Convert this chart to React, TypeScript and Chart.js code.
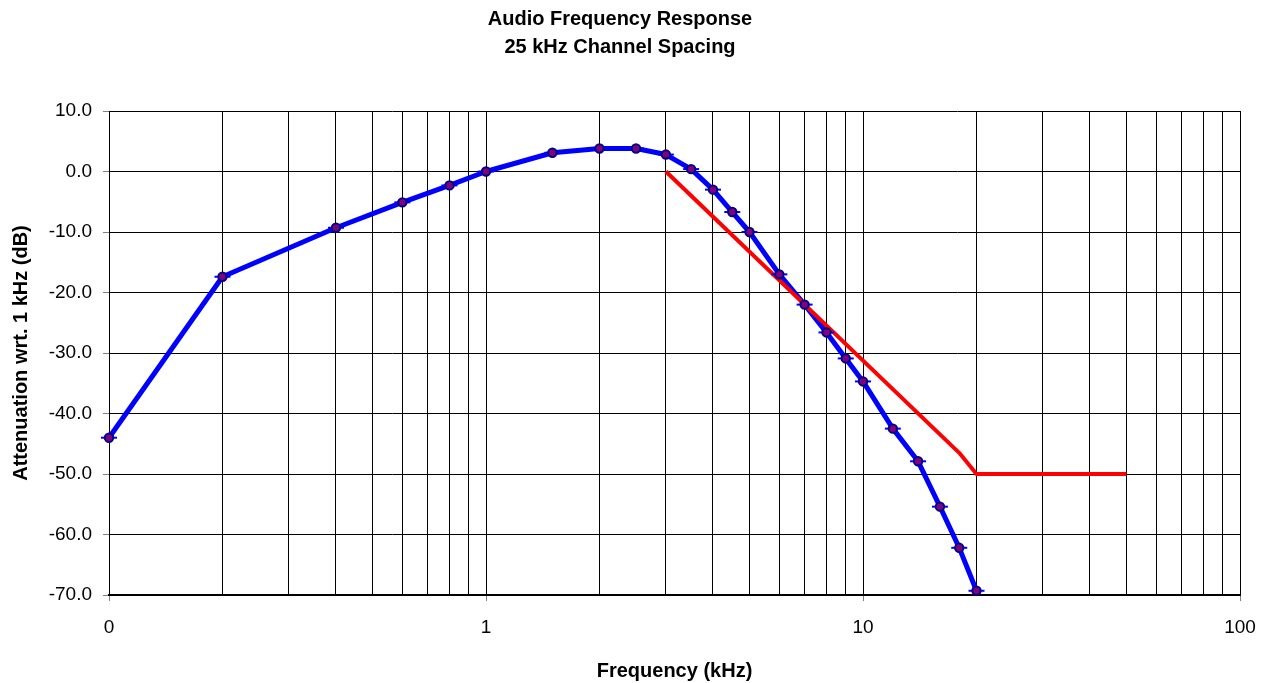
import React, { useEffect, useRef } from "react";
import { Chart, registerables } from "chart.js";

Chart.register(...registerables);

// ---------- text ----------
const TITLE_LINES = ["Audio Frequency Response", "25 kHz Channel Spacing"];
const X_TITLE = "Frequency (kHz)";
const Y_TITLE = "Attenuation wrt. 1 kHz (dB)";

// ---------- data ----------
const MEASURED_FREQ = [0.1, 0.2, 0.4, 0.6, 0.8, 1, 1.5, 2, 2.5, 3, 3.5, 4, 4.5, 5, 6, 7, 8, 9, 10, 12, 14, 16, 18, 20];
const MEASURED_DB = [-44.0, -17.4, -9.3, -5.1, -2.3, 0.0, 3.1, 3.8, 3.8, 2.8, 0.4, -3.0, -6.7, -10.0, -17.0, -22.0, -26.6, -30.9, -34.7, -42.5, -47.9, -55.4, -62.2, -69.3];

const LIMIT_FREQ = [3, 18, 20, 50];
const LIMIT_DB = [0, -46.5, -50, -50];

// ---------- axes ----------
const X_MIN = 0.1;
const X_MAX = 100;
const Y_MIN = -70;
const Y_MAX = 10;
const Y_STEP = 10;
const X_GRID_DECADES = [0.1, 1, 10];
const X_GRID_MULTIPLIERS = [1, 2, 3, 4, 5, 6, 7, 8, 9];
const X_TICK_LABELS: Record<string, string> = { "0.1": "0", "1": "1", "10": "10", "100": "100" };

const FONT = "'Liberation Sans', Arial, Helvetica, sans-serif";

const X_GRID_VALUES: number[] = [];
X_GRID_DECADES.forEach((d) =>
  X_GRID_MULTIPLIERS.forEach((m) => X_GRID_VALUES.push(Number((d * m).toPrecision(6))))
);
X_GRID_VALUES.push(X_MAX);

const measuredPoints = MEASURED_FREQ.map((f, i) => ({ x: f, y: MEASURED_DB[i] }));
const limitPoints = LIMIT_FREQ.map((f, i) => ({ x: f, y: LIMIT_DB[i] }));

export default function App() {
  const canvasRef = useRef<HTMLCanvasElement | null>(null);

  useEffect(() => {
    const canvas = canvasRef.current;
    if (!canvas) return;
    const chart = new Chart(canvas, {
      type: "line",
      data: {
        datasets: [
          {
            label: "markers",
            data: measuredPoints,
            showLine: false,
            pointStyle: "circle",
            pointRadius: 4.2,
            pointBorderWidth: 2,
            pointBorderColor: "#000080",
            pointBackgroundColor: "#800080",
            order: 0,
            clip: false as any,
          },
          {
            label: "dashes",
            data: measuredPoints,
            showLine: false,
            pointStyle: "line",
            pointRadius: 8,
            pointBorderWidth: 2,
            pointBorderColor: "#0000FF",
            pointBackgroundColor: "#0000FF",
            order: 1,
            clip: false as any,
          },
          {
            label: "limit",
            data: limitPoints,
            borderColor: "#FF0000",
            borderWidth: 4,
            pointRadius: 0,
            tension: 0,
            borderJoinStyle: "round",
            order: 2,
            clip: false as any,
          },
          {
            label: "response",
            data: measuredPoints,
            borderColor: "#0000FF",
            borderWidth: 5,
            pointRadius: 0,
            tension: 0,
            borderJoinStyle: "round",
            order: 3,
            clip: false as any,
          },
        ],
      },
      options: {
        animation: false,
        responsive: false,
        devicePixelRatio: 1,
        layout: { padding: { left: 0, right: 32, top: 0, bottom: 0 } },
        plugins: {
          legend: { display: false },
          tooltip: { enabled: false },
          title: {
            display: true,
            text: TITLE_LINES,
            color: "#000",
            font: { family: FONT, size: 20, weight: "bold", lineHeight: 1.425 },
            padding: { top: 5, bottom: 49 },
          },
        },
        scales: {
          x: {
            type: "logarithmic",
            min: X_MIN,
            max: X_MAX,
            afterBuildTicks: (scale: any) => {
              scale.ticks = X_GRID_VALUES.map((v) => ({
                value: v,
                major: X_TICK_LABELS[String(v)] !== undefined,
              }));
            },
            afterFit: (scale: any) => {
              scale.height = 88;
            },
            ticks: {
              autoSkip: false,
              maxRotation: 0,
              minRotation: 0,
              padding: 15,
              color: "#000",
              font: { family: FONT, size: 19 },
              callback: (value: any) => X_TICK_LABELS[String(value)] ?? "",
            },
            grid: {
              color: "#000",
              lineWidth: 1,
              tickLength: 6,
              tickColor: (ctx: any) =>
                ctx.tick && X_TICK_LABELS[String(ctx.tick.value)] !== undefined
                  ? "#808080"
                  : "rgba(0,0,0,0)",
            },
            border: { display: true, color: "#000", width: 2 },
            title: {
              display: true,
              text: X_TITLE,
              color: "#000",
              font: { family: FONT, size: 20, weight: "bold", lineHeight: 1.2 },
              padding: { top: 0, bottom: 0 },
            },
          },
          y: {
            type: "linear",
            min: Y_MIN,
            max: Y_MAX,
            afterFit: (scale: any) => {
              scale.width = 109;
            },
            ticks: {
              stepSize: Y_STEP,
              padding: 11,
              color: "#000",
              font: { family: FONT, size: 19 },
              callback: (value: any) => Number(value).toFixed(1),
            },
            grid: {
              color: "#000",
              lineWidth: 1,
              tickLength: 6,
              tickColor: "#808080",
            },
            border: { display: true, color: "#000", width: 1 },
            title: {
              display: true,
              text: Y_TITLE,
              color: "#000",
              font: { family: FONT, size: 20, weight: "bold", lineHeight: 1.2 },
              padding: { top: 9, bottom: 0 },
            },
          },
        },
      } as any,
    });
    return () => chart.destroy();
  }, []);

  return (
    <div style={{ position: "fixed", left: 0, top: 0, width: 1272, height: 683, background: "#fff" }}>
      <canvas ref={canvasRef} width={1272} height={683} style={{ display: "block" }} />
    </div>
  );
}
